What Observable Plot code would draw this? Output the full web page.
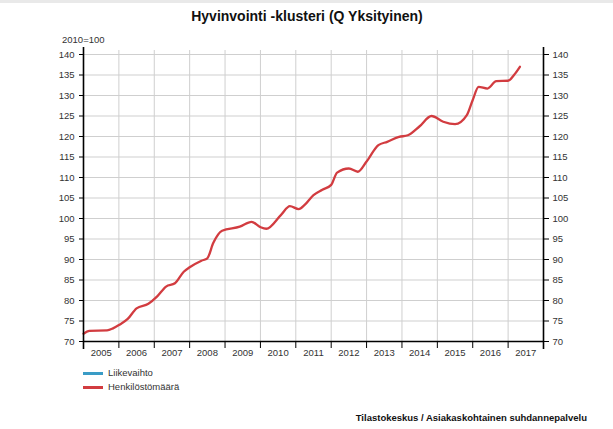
<!DOCTYPE html>
<html>
<head>
<meta charset="utf-8">
<script src="https://cdn.jsdelivr.net/npm/d3@7"></script>
<script src="https://cdn.jsdelivr.net/npm/@observablehq/plot@0.6"></script>
<style>
  body { margin: 0; background: #fff; font-family: "Liberation Sans", Arial, sans-serif; }
  #wrap { position: relative; width: 613px; height: 429px; overflow: hidden; background: #fff; }
  #topband { position: absolute; left: 0; top: 0; width: 613px; height: 3px; background: #e9e9e9; }
  #title { position: absolute; left: 0; top: 8px; width: 614px; text-align: center; font-weight: bold; font-size: 14px; color: #111; }
  #unit { position: absolute; left: 62px; top: 34px; font-size: 9.5px; color: #333; }
  #chart { position: absolute; left: 0; top: 30px; }
  .leg { position: absolute; left: 83px; font-size: 9.5px; color: #333; height: 12px; line-height: 12px; }
  .leg span.sw { position: absolute; left: 0; top: 5px; width: 20px; height: 2.5px; }
  .leg span.lb { position: absolute; left: 25px; top: 0; white-space: nowrap; }
  #caption { position: absolute; right: 26px; top: 412px; font-weight: bold; font-size: 9.5px; color: #111; white-space: nowrap; }
</style>
</head>
<body>
<div id="wrap">
  <div id="topband"></div>
  <div id="title"></div>
  <div id="unit"></div>
  <div id="chart"></div>
  <div class="leg" id="leg1" style="top:367px"><span class="sw" style="background:#3a9cc6"></span><span class="lb"></span></div>
  <div class="leg" id="leg2" style="top:381px"><span class="sw" style="background:#d23c40"></span><span class="lb"></span></div>
  <div id="caption"></div>
</div>
<script>
const title = "Hyvinvointi -klusteri (Q Yksityinen)";
const unitLabel = "2010=100";
const caption = "Tilastokeskus / Asiakaskohtainen suhdannepalvelu";
const seriesNames = ["Liikevaihto", "Henkilöstömäärä"];
const yTicks = [70, 75, 80, 85, 90, 95, 100, 105, 110, 115, 120, 125, 130, 135, 140];
const years = [2005, 2006, 2007, 2008, 2009, 2010, 2011, 2012, 2013, 2014, 2015, 2016, 2017];

// Henkilöstömäärä
const months = [
  "2005-01","2005-03","2005-09","2005-11","2006-01","2006-04","2006-07","2006-11",
  "2007-02","2007-05","2007-08","2007-11","2008-01","2008-05","2008-07","2008-09",
  "2008-12","2009-06","2009-10","2010-01","2010-03","2010-08","2010-11","2011-02",
  "2011-04","2011-07","2011-10","2012-01","2012-03","2012-07","2012-10","2013-01",
  "2013-05","2013-08","2013-12","2014-03","2014-07","2014-11","2015-03","2015-07",
  "2015-11","2016-01","2016-03","2016-06","2016-09","2017-01","2017-03","2017-05"
];
const henkilosto = [
  71.9, 72.6, 72.7, 73.2, 74.0, 75.5, 78.1, 79.2,
  81.0, 83.4, 84.2, 87.0, 88.1, 89.7, 90.3, 94.0,
  97.0, 98.0, 99.2, 97.9, 97.5, 100.9, 103.0, 102.3,
  103.3, 105.7, 107.0, 108.2, 111.2, 112.2, 111.4, 113.9,
  117.9, 118.7, 119.9, 120.3, 122.5, 125.0, 123.6, 123.0,
  125.2, 128.9, 132.1, 131.7, 133.5, 133.6, 135.0, 137.0
];

document.getElementById("title").textContent = title;
document.getElementById("unit").textContent = unitLabel;
document.getElementById("caption").textContent = caption;
document.querySelector("#leg1 .lb").textContent = seriesNames[0];
document.querySelector("#leg2 .lb").textContent = seriesNames[1];

const data = months.map((m, i) => ({
  t: +m.slice(0, 4) + (+m.slice(5) - 1) / 12,
  v: henkilosto[i]
}));
const boundaries = years.concat([years[years.length - 1] + 1]);
const mids = years.map(y => y + 0.5);
const x0 = boundaries[0], x1 = boundaries[boundaries.length - 1];

const chart = Plot.plot({
  width: 613,
  height: 340,
  marginLeft: 83,
  marginRight: 70,
  marginTop: 24,
  marginBottom: 29,
  style: { fontFamily: "Liberation Sans, Arial, sans-serif", fontSize: "9.5px", color: "#333", background: "transparent" },
  x: { domain: [x0, x1] },
  y: { domain: [70, 140] },
  marks: [
    Plot.gridY(yTicks, { stroke: "#cfcfcf", strokeOpacity: 1 }),
    Plot.gridX(boundaries.slice(1, -1), { stroke: "#cfcfcf", strokeOpacity: 1, insetTop: -4 }),
    Plot.line(data, { x: "t", y: "v", stroke: "#d23c40", strokeWidth: 2.3, curve: "monotone-x" }),
    Plot.ruleY([70], { x1: x0, x2: x1, stroke: "#000", strokeWidth: 1.6 }),
    Plot.ruleX([x0, x1], { stroke: "#000", strokeWidth: 1.6, insetTop: -7, insetBottom: -8 }),
    Plot.axisY(yTicks, { anchor: "left", tickSize: 4, tickPadding: 5, label: null, stroke: "#000", fill: "#333" }),
    Plot.axisY(yTicks, { anchor: "right", tickSize: 5, tickPadding: 4, label: null, stroke: "#000", fill: "#333" }),
    Plot.axisX(boundaries.slice(1, -1), { anchor: "bottom", tickSize: 7, tickFormat: () => "", label: null, stroke: "#000" }),
    Plot.axisX(mids, { anchor: "bottom", tickSize: 0, tickPadding: 8, tickFormat: d => String(Math.floor(d)), label: null, fill: "#333" })
  ]
});
document.getElementById("chart").appendChild(chart);
</script>
</body>
</html>
